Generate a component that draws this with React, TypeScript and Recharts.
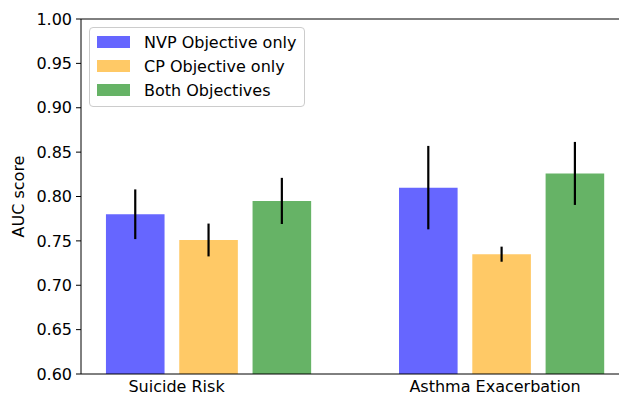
import { BarChart, Bar, XAxis, YAxis, ErrorBar, ReferenceLine, Legend } from 'recharts'

const CATEGORIES = ['Suicide Risk', 'Asthma Exacerbation']
// where the category labels sit on the x scale (they are not centred under the groups)
const LABEL_POS = [-0.109, 0.978]
const NVP = [0.780, 0.810]
const NVP_ERR = [0.028, 0.047]
const CP = [0.751, 0.735]
const CP_ERR = [0.0185, 0.0085]
const BOTH = [0.795, 0.826]
const BOTH_ERR = [0.026, 0.0355]
const Y_TICKS = [0.6, 0.65, 0.7, 0.75, 0.8, 0.85, 0.9, 0.95, 1.0]

const SERIES = [
  { key: 'nvp', label: 'NVP Objective only', color: '#6666ff' },
  { key: 'cp', label: 'CP Objective only', color: '#ffc966' },
  { key: 'both', label: 'Both Objectives', color: '#66b366' },
]

const FONT = '"DejaVu Sans", sans-serif'

const data = CATEGORIES.map((name, i) => ({
  x: i,
  name,
  nvp: NVP[i],
  nvpErr: NVP_ERR[i],
  cp: CP[i],
  cpErr: CP_ERR[i],
  both: BOTH[i],
  bothErr: BOTH_ERR[i],
}))

function LegendBox() {
  return (
    <div
      style={{
        width: 207,
        height: 76,
        border: '1px solid #cccccc',
        borderRadius: 4,
        background: 'rgba(255,255,255,0.8)',
        padding: '2px 0 0 7px',
        boxSizing: 'content-box',
        fontFamily: FONT,
        fontSize: 16,
        color: '#000',
      }}
    >
      {SERIES.map((s) => (
        <div key={s.key} style={{ display: 'flex', alignItems: 'center', height: 24 }}>
          <span style={{ width: 33, height: 12, background: s.color, display: 'inline-block', flex: 'none' }} />
          <span style={{ marginLeft: 14, whiteSpace: 'nowrap' }}>{s.label}</span>
        </div>
      ))}
    </div>
  )
}

export default function App() {
  return (
    <div style={{ position: 'absolute', left: 0, top: 0, width: 619, height: 395, overflow: 'hidden', background: '#fff' }}>
      <BarChart
        width={640}
        height={395}
        data={data}
        margin={{ top: 19, right: 11, left: 0, bottom: 0 }}
        barGap={14.7}
      >
        <XAxis
          dataKey="x"
          type="number"
          domain={[-0.435, 1.435]}
          allowDataOverflow
          ticks={LABEL_POS}
          tickFormatter={(v: number) => CATEGORIES[LABEL_POS.indexOf(v)] ?? ''}
          tickLine={false}
          tickSize={6}
          tickMargin={1}
          height={21}
          stroke="#000"
          tick={{ fill: '#000', fontSize: 16, fontFamily: FONT }}
        />
        <YAxis
          type="number"
          domain={[0.6, 1.0]}
          allowDataOverflow
          ticks={Y_TICKS}
          tickFormatter={(v: number) => v.toFixed(2)}
          width={81}
          tickSize={5}
          tickMargin={4}
          stroke="#000"
          tick={{ fill: '#000', fontSize: 16, fontFamily: FONT }}
          label={({ viewBox }: any) => {
            const cy = viewBox.y + viewBox.height / 2
            return (
              <text
                x={18}
                y={cy}
                transform={`rotate(-90 18 ${cy})`}
                textAnchor="middle"
                dominantBaseline="central"
                fontSize={16}
                fontFamily={FONT}
                fill="#000"
              >
                AUC score
              </text>
            )
          }}
        />
        <ReferenceLine y={1} stroke="#000" strokeWidth={1} />
        <Legend
          layout="vertical"
          align="center"
          verticalAlign="middle"
          wrapperStyle={{ top: 27, left: 89, width: 'auto', height: 'auto' }}
          content={() => <LegendBox />}
        />
        {SERIES.map((s) => (
          <Bar key={s.key} dataKey={s.key} name={s.label} fill={s.color} barSize={58.6} isAnimationActive={false}>
            <ErrorBar dataKey={`${s.key}Err`} width={0} stroke="#000" strokeWidth={2.2} direction="y" />
          </Bar>
        ))}
      </BarChart>
    </div>
  )
}
